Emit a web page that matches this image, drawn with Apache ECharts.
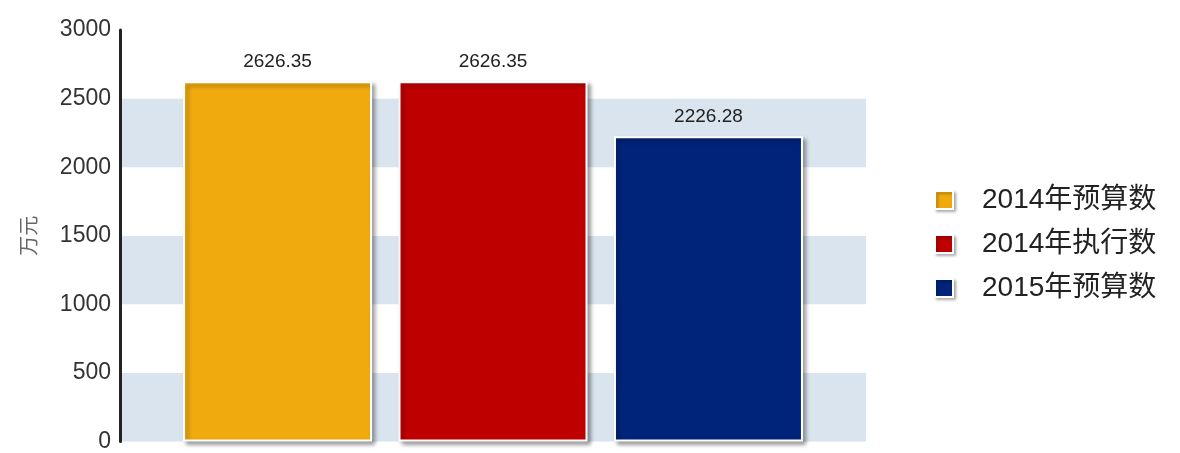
<!DOCTYPE html>
<html>
<head>
<meta charset="utf-8">
<script src="https://cdn.jsdelivr.net/npm/echarts@6/dist/echarts.min.js"></script>
<style>
  html, body { margin: 0; padding: 0; background: #fff; }
  #chart { width: 1180px; height: 453px; }
</style>
</head>
<body>
<div id="chart"></div>
<script>
  // 数据
  const categories = ['']
  const seriesNames = ['2014年预算数', '2014年执行数', '2015年预算数']
  const seriesValues = [[2626.35], [2626.35], [2226.28]]
  const seriesColors = ['#f0aa0e', '#bf0000', '#00247a']
  const yTicks = [0, 500, 1000, 1500, 2000, 2500, 3000]

  const chart = echarts.init(document.getElementById('chart'))

  const seriesArr = seriesNames.map((name, i) => {
    return {
      name: name,
      type: 'bar',
      data: seriesValues[i],
      barWidth: 189,
      barGap: '14%',
      itemStyle: {
        color: seriesColors[i],
        borderColor: '#fff',
        borderWidth: 2,
        shadowColor: 'rgba(0,0,0,0.35)',
        shadowBlur: 4,
        shadowOffsetX: 3,
        shadowOffsetY: 3
      },
      label: {
        show: true,
        position: 'top',
        distance: 10,
        fontSize: 19,
        color: '#222',
        fontFamily: 'Liberation Sans, Arial, sans-serif'
      }
    }
  })

  const option = {
    animation: false,
    grid: {
      left: 120,
      right: 314,
      top: 30,
      bottom: 8
    },
    legend: {
      orient: 'vertical',
      left: 929,
      top: 181,
      itemWidth: 18,
      itemHeight: 18,
      itemGap: 16,
      icon: 'rect',
      itemStyle: {
        shadowColor: 'rgba(0,0,0,0.3)',
        shadowBlur: 3,
        shadowOffsetX: 2,
        shadowOffsetY: 2
      },
      textStyle: {
        fontSize: 28,
        color: '#222',
        padding: [0, 0, 0, 24],
        fontFamily: 'Liberation Sans, Noto Sans CJK SC, sans-serif'
      },
      data: seriesNames
    },
    xAxis: {
      type: 'category',
      data: categories,
      axisLine: { show: false },
      axisTick: { show: false },
      axisLabel: { show: false }
    },
    yAxis: {
      type: 'value',
      min: yTicks[0],
      max: yTicks[yTicks.length - 1],
      interval: 500,
      name: '万元',
      nameLocation: 'middle',
      nameGap: 82,
      nameTextStyle: {
        fontSize: 20,
        color: '#666',
        fontFamily: 'Noto Sans CJK SC, sans-serif'
      },
      axisLine: { show: true, lineStyle: { color: '#222', width: 3 } },
      axisTick: { show: false },
      axisLabel: {
        fontSize: 23,
        color: '#333',
        margin: 9,
        formatter: v => String(v),
        fontFamily: 'Liberation Sans, Arial, sans-serif'
      },
      splitLine: { show: false },
      splitArea: {
        show: true,
        areaStyle: { color: ['#dae4ef', '#ffffff'] }
      }
    },
    series: seriesArr
  }

  chart.setOption(option)
</script>
</body>
</html>
